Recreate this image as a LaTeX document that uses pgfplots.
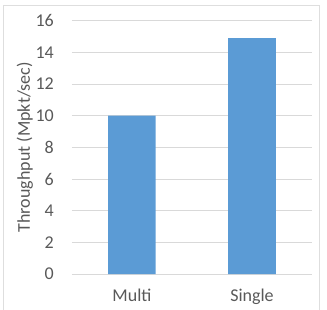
\documentclass[border=0pt]{standalone}
\usepackage{pgfplots}
\pgfplotsset{compat=1.18}
\usepackage{fontspec}
\setmainfont{Carlito}
\definecolor{barblue}{HTML}{5B9BD5}
\definecolor{txtgray}{HTML}{595959}
\definecolor{gridgray}{HTML}{D9D9D9}
\definecolor{framegray}{HTML}{DEDEDE}
\begin{document}
\begin{tikzpicture}[x=1bp,y=1bp]
\path[use as bounding box] (-72,-36) rectangle (255,274);
\draw[framegray, line width=0.8bp] (-69,-45) -- (-69,269) -- (247,269) -- (247,-45);
\begin{axis}[
  at={(0,0)}, anchor=south west,
  scale only axis, width=240bp, height=253.3bp,
  ybar, bar width=47.5bp,
  xmin=-0.5, xmax=1.5, ymin=0, ymax=16,
  xtick={0,1}, xticklabels={Multi,Single},
  ytick={0,2,...,16},
  axis line style={draw=none},
  major tick length=0pt,
  ymajorgrids, grid style={gridgray, line width=0.8bp},
  font=\fontsize{18bp}{21bp}\selectfont,
  /pgf/number format/assume math mode=true,
  tick label style={text=txtgray},
  yticklabel style={anchor=east, inner sep=0pt, xshift=-18bp},
  xticklabel style={anchor=base, inner sep=0pt, yshift=-27bp},
  ylabel={Throughput (Mpkt/sec)},
  ylabel style={at={(axis description cs:-0.196,0.5)}, anchor=center, text=txtgray},
  clip=false,
]
\addplot[fill=barblue, draw=none] coordinates {(0,10) (1,14.9)};
\end{axis}
\end{tikzpicture}
\end{document}
